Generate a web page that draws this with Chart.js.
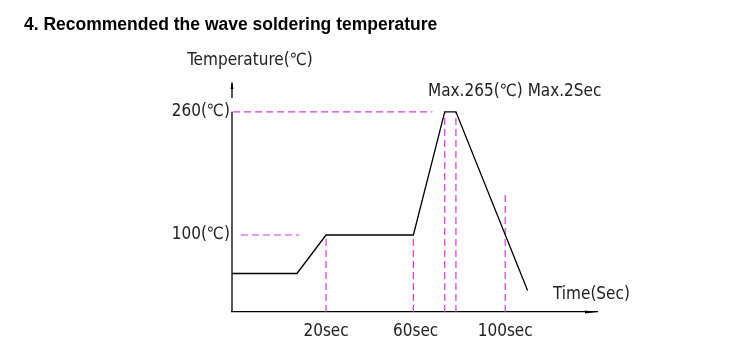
<!DOCTYPE html>
<html>
<head>
<meta charset="utf-8">
<script src="https://cdn.jsdelivr.net/npm/chart.js@4.4.1/dist/chart.umd.min.js"></script>
<style>
  html, body { margin: 0; padding: 0; background: #fff; }
  #wrap { width: 734px; height: 352px; }
</style>
</head>
<body>
<div id="wrap"><canvas id="myChart" width="734" height="352"></canvas></div>
<script>
// soldering profile (schematic time in sec, temperature in C)
const profileTime = [-22, 7, 20, 59, 73, 78, 110]
const profileTemp = [50, 50, 100, 100, 260, 260, 28]

// x ticks
const timeTicks = [20, 60, 100]
const timeLabels = ['20sec', '60sec', '100sec']

// y ticks
const tempTicks = [100, 260]
const tempLabels = ['100(\u2103)', '260(\u2103)']

// dashed guide lines [x1, y1, x2, y2]
const guide260 = [-21.5, 260, 67.5, 260]
const guide100 = [-18, 100, 8, 100]
const guideT20 = [20, 0, 20, 100]
const guideT60 = [59, 0, 59, 100]
const guidePeakA = [73, 0, 73, 260]
const guidePeakB = [78, 0, 78, 260]
const guideT100 = [100, 0, 100, 155]

const titleText = '4. Recommended the wave soldering temperature'
const yTitle = 'Temperature(\u2103)'
const xTitle = 'Time(Sec)'
const peakNote = 'Max.265(\u2103) Max.2Sec'

const labelFont = '17px "Liberation Sans Narrow", "DejaVu Sans Condensed", sans-serif'
const pink = '#d93ad9'

const ctx = document.getElementById('myChart')

const profile = profileTime.map(function (t, i) {
  return { x: t, y: profileTemp[i] }
})

function guide(g) {
  return {
    data: [{ x: g[0], y: g[1] }, { x: g[2], y: g[3] }],
    borderColor: pink,
    borderWidth: 1.2,
    borderDash: [7, 4],
    pointRadius: 0,
    showLine: true,
    clip: false
  }
}

const extras = {
  id: 'extras',
  afterDraw(chart) {
    const c = chart.ctx
    const ys = chart.scales.y
    const area = chart.chartArea
    c.save()
    // title
    c.fillStyle = '#000'
    c.font = 'bold 17.5px "Liberation Sans", Arial, sans-serif'
    c.textBaseline = 'alphabetic'
    c.textAlign = 'left'
    c.fillText(titleText, 24, 30)

    // y axis with arrow (gap below arrow like the drawing)
    c.strokeStyle = '#000'
    c.lineWidth = 1.3
    c.beginPath()
    c.moveTo(area.left, ys.getPixelForValue(0))
    c.lineTo(area.left, ys.getPixelForValue(260))
    c.moveTo(area.left, area.top + 2)
    c.lineTo(area.left, area.top + 17)
    c.stroke()
    c.fillStyle = '#000'
    c.beginPath()
    c.moveTo(area.left, area.top)
    c.lineTo(area.left - 1.5, area.top + 8)
    c.lineTo(area.left + 1.5, area.top + 8)
    c.closePath()
    c.fill()

    // x axis arrow
    c.beginPath()
    c.moveTo(area.right, area.bottom)
    c.lineTo(area.right - 12, area.bottom - 1.5)
    c.lineTo(area.right - 12, area.bottom + 1.5)
    c.closePath()
    c.fill()

    // axis titles and note
    c.font = labelFont
    c.fillStyle = '#222'
    c.textBaseline = 'middle'
    c.textAlign = 'center'
    c.fillText(yTitle, 250, 61)
    c.textAlign = 'left'
    c.fillText(xTitle, 553, 295)
    c.fillText(peakNote, 428, 92)
    c.restore()
  }
}

const data = {
  datasets: [
    {
      data: profile,
      borderColor: '#000',
      borderWidth: 1.3,
      pointRadius: 0,
      showLine: true,
      clip: false
    },
    guide(guide260),
    guide(guide100),
    guide(guideT20),
    guide(guideT60),
    guide(guidePeakA),
    guide(guidePeakB),
    guide(guideT100)
  ]
}

const config = {
  type: 'scatter',
  data: data,
  options: {
    responsive: false,
    animation: false,
    events: [],
    layout: {
      padding: { top: 81, right: 137, bottom: 0, left: 0 }
    },
    plugins: {
      legend: { display: false },
      tooltip: { enabled: false },
      title: { display: false }
    },
    scales: {
      x: {
        type: 'linear',
        min: -22,
        max: 141,
        grid: { display: false, drawTicks: false },
        border: { display: true, color: '#000', width: 1.3 },
        afterBuildTicks: function (scale) {
          scale.ticks = timeTicks.map(function (v) { return { value: v } })
        },
        afterFit: function (scale) { scale.height = 40 },
        ticks: {
          padding: 9,
          color: '#222',
          font: { family: '"Liberation Sans Narrow", "DejaVu Sans Condensed", sans-serif', size: 17 },
          callback: function (v) { return timeLabels[timeTicks.indexOf(v)] }
        }
      },
      y: {
        type: 'linear',
        min: 0,
        max: 300,
        grid: { display: false, drawTicks: false },
        border: { display: false },
        afterBuildTicks: function (scale) {
          scale.ticks = tempTicks.map(function (v) { return { value: v } })
        },
        afterFit: function (scale) { scale.width = 232 },
        ticks: {
          padding: 2,
          color: '#222',
          font: { family: '"Liberation Sans Narrow", "DejaVu Sans Condensed", sans-serif', size: 17 },
          callback: function (v) { return tempLabels[tempTicks.indexOf(v)] }
        }
      }
    }
  },
  plugins: [extras]
}

const myChart = new Chart(ctx, config)
</script>
</body>
</html>
